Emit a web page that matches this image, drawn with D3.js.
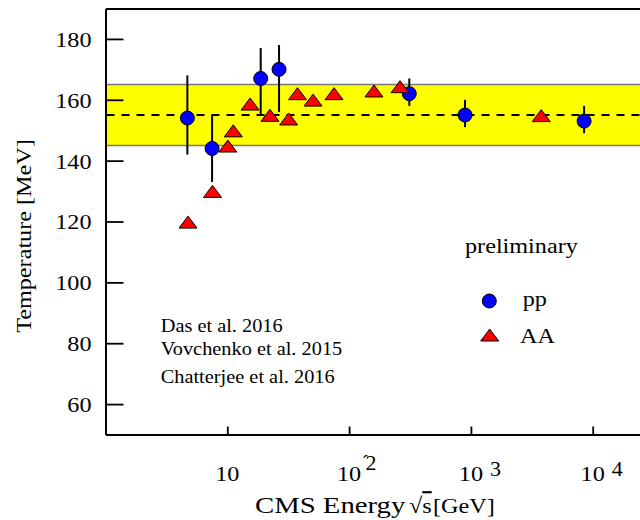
<!DOCTYPE html>
<html><head><meta charset="utf-8">
<script src="https://cdn.jsdelivr.net/npm/d3@7"></script>
<style>
body{margin:0;background:#fff}
svg{display:block}
text{font-family:"Liberation Serif","Times New Roman",serif;fill:#000}
</style>
</head><body>
<svg id="c" width="640" height="520"></svg>
<script>
// ---- data ----
const ppEnergy = [4.7, 7.5, 18.8, 26.6, 312, 895, 8500];
const ppTemp   = [154, 144, 167, 170, 162, 155, 153];
const ppLow    = [142, 133, 155, 156, 158, 151, 149];
const ppHigh   = [168, 155, 177, 178, 167, 160, 158];
const aaEnergy = [4.76, 7.56, 10.1, 11.2, 15.4, 22.4, 31.9, 37.7, 50.6, 75.2, 160, 262, 3780];
const aaTemp   = [119.8, 129.9, 144.8, 149.8, 158.6, 154.9, 153.7, 162.0, 159.9, 162.0, 162.9, 164.3, 154.8];
const yTickValues = [60, 80, 100, 120, 140, 160, 180];
const xTickValues = [10, 100, 1000, 10000];
const xTickExponents = ["", "\u00b42", "3", "4"];
const bandRange = [145, 165];
const bandCentre = 155;
const citations = ["Das et al. 2016", "Vovchenko et al. 2015", "Chatterjee et al. 2016"];
const legendTitle = "preliminary";
const seriesNames = ["pp", "AA"];

const svg = d3.select("#c");
const x = d3.scaleLog().domain([1, Math.pow(10, 4.5)]).range([105.5, 653.6]);
const y = d3.scaleLinear().domain([50, 190]).range([434.5, 8.5]);
const [x0, x1] = x.range();

function label(px, py, str, size, anchor, sx) {
  return svg.append("text")
    .attr("transform", `translate(${px},${py}) scale(${sx || 1.1},1)`)
    .attr("text-anchor", anchor || "start")
    .style("font-size", size + "px")
    .text(str);
}

// band
svg.append("rect").attr("x", x0).attr("width", x1 - x0)
  .attr("y", y(bandRange[1])).attr("height", y(bandRange[0]) - y(bandRange[1]))
  .attr("fill", "#ffff00");
bandRange.forEach(v => svg.append("line").attr("x1", x0).attr("x2", x1)
  .attr("y1", y(v)).attr("y2", y(v)).attr("stroke", "#777").attr("stroke-width", 1.6));
svg.append("line").attr("x1", x0 + 1).attr("x2", x1)
  .attr("y1", y(bandCentre)).attr("y2", y(bandCentre))
  .attr("stroke", "#000").attr("stroke-width", 2).attr("stroke-dasharray", "8,7");

// axes
const yAxis = svg.append("g").attr("transform", `translate(${x0},0)`)
  .call(d3.axisLeft(y).tickValues(yTickValues).tickSize(-18).tickSizeOuter(0).tickPadding(14));
yAxis.selectAll("text").attr("x", 0).attr("dy", "0.34em")
  .attr("transform", "translate(-14,0) scale(1.1,1)")
  .style("font-size", "22px").style("font-family", "Liberation Serif");
const xAxis = svg.append("g").attr("transform", `translate(0,${y.range()[0]})`)
  .call(d3.axisBottom(x).tickValues(xTickValues).tickSize(-8).tickSizeOuter(0).tickFormat(""));
const topAxis = svg.append("g").attr("transform", `translate(0,${y.range()[1]})`)
  .call(d3.axisTop(x).tickValues([]).tickSizeOuter(0));
[yAxis, xAxis, topAxis].forEach(g => {
  g.select(".domain").attr("stroke", "#000").attr("stroke-width", 2);
  g.selectAll(".tick line").attr("stroke", "#000").attr("stroke-width", 1.8);
});

// x tick labels (one text per tick, superscript as tspan)
xTickValues.forEach((v, i) => {
  const cx = x(v);
  const t = svg.append("text")
    .attr("transform", `translate(${cx - 12.1},481) scale(1.1,1)`)
    .style("font-size", "22px");
  t.append("tspan").text("10");
  const ex = xTickExponents[i];
  if (ex.length === 2) {
    t.append("tspan").attr("x", 22.3).attr("dy", -11).style("font-size", "20px")
      .style("letter-spacing", "-3px").text(ex);
  } else if (ex) {
    t.append("tspan").attr("x", 28.3).attr("dy", -5).style("font-size", "20px").text(ex);
  }
});

// axis titles
label(255, 513, "CMS Energy", 23, "start", 1.25);
const rt = svg.append("text").attr("transform", "translate(409,513) scale(1.1,1)")
  .style("font-size", "22px");
rt.append("tspan").text("\u221a");
rt.append("tspan").style("text-decoration", "overline").text("s");
label(433, 513, "[GeV]", 22, "start");

svg.append("text").attr("transform", "translate(31,236) rotate(-90) scale(1.1,1)")
  .attr("text-anchor", "middle").style("font-size", "22px").text("Temperature [MeV]");

// pp error bars and points
const pp = ppEnergy.map((e, i) => ({e, t: ppTemp[i], lo: ppLow[i], hi: ppHigh[i]}));
svg.append("g").selectAll("line").data(pp).join("line")
  .attr("x1", d => x(d.e)).attr("x2", d => x(d.e))
  .attr("y1", d => y(d.lo)).attr("y2", d => y(d.hi))
  .attr("stroke", "#000").attr("stroke-width", 2);
svg.append("g").selectAll("circle").data(pp).join("circle")
  .attr("cx", d => x(d.e)).attr("cy", d => y(d.t)).attr("r", 7)
  .attr("fill", "#0000ff").attr("stroke", "#000").attr("stroke-width", 1);

// AA points
const tri = "M0,-6L9,6L-9,6Z";
const aa = aaEnergy.map((e, i) => ({e, t: aaTemp[i]}));
svg.append("g").selectAll("path").data(aa).join("path")
  .attr("d", tri).attr("transform", d => `translate(${x(d.e)},${y(d.t)})`)
  .attr("fill", "#ff0000").attr("stroke", "#000").attr("stroke-width", 1);

// citations
citations.forEach((c, i) => label(160.7, [331.7, 355, 383.3][i], c, 18.5, "start"));

// legend
label(465, 253.3, legendTitle, 22, "start");
svg.append("circle").attr("cx", 489.3).attr("cy", 301).attr("r", 7)
  .attr("fill", "#0000ff").attr("stroke", "#000").attr("stroke-width", 1);
label(522.7, 306, seriesNames[0], 22, "start");
svg.append("path").attr("d", tri).attr("transform", "translate(489.7,335)")
  .attr("fill", "#ff0000").attr("stroke", "#000").attr("stroke-width", 1);
label(520, 343.3, seriesNames[1], 22, "start");
</script>
</body></html>
